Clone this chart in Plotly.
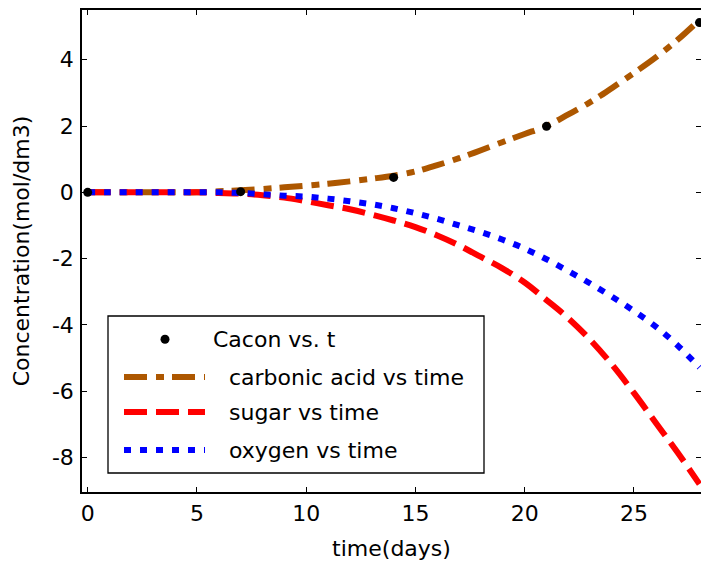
import plotly.graph_objects as go

# ---- data ----
days = list(range(0, 29))
carbonic = [0, 0, 0, 0, 0, 0, 0.03, 0.06, 0.1, 0.15, 0.2, 0.26, 0.33, 0.41, 0.5,
            0.63, 0.82, 1.03, 1.27, 1.52, 1.76, 2.0, 2.35, 2.72, 3.15, 3.6, 4.07, 4.6, 5.2]
sugar = [0, 0, 0, 0, 0, 0, -0.02, -0.04, -0.09, -0.16, -0.27, -0.39, -0.51, -0.67, -0.85,
         -1.05, -1.3, -1.6, -1.95, -2.3, -2.72, -3.25, -3.8, -4.45, -5.2, -6.05, -6.95, -7.85, -8.8]
oxygen = [0, 0, 0, 0, 0, 0, 0, -0.02, -0.06, -0.1, -0.13, -0.19, -0.27, -0.36, -0.48,
          -0.63, -0.8, -1.0, -1.2, -1.43, -1.7, -2.02, -2.38, -2.75, -3.15, -3.58, -4.05, -4.62, -5.28]
cacon_t = [0, 7, 14, 21, 28]
cacon = [0, 0.02, 0.45, 1.99, 5.12]

x_ticks = [0, 5, 10, 15, 20, 25]
y_ticks = [4, 2, 0, -2, -4, -6, -8]

legend_names = ["Cacon vs. t", "carbonic acid vs time", "sugar vs time", "oxygen vs time"]

BROWN = "#AD5700"
RED = "#FF0000"
BLUE = "#0000FF"
FONT = "DejaVu Sans"
FS = 22

W, H = 701, 567
L, R, T, B = 82, 0, 10, 75
PW, PH = W - L - R, H - T - B


def px(x):
    return (x - L) / PW


def py(y):
    return (H - B - y) / PH


DASHDOT = "23px,9px,8px,8px"
DASH = "23px,9px"
DOT = "7px,9px"

fig = go.Figure()
fig.add_trace(go.Scatter(x=days, y=carbonic, mode="lines", name=legend_names[1],
                         line=dict(color=BROWN, width=6, dash=DASHDOT, shape="spline")))
fig.add_trace(go.Scatter(x=days, y=sugar, mode="lines", name=legend_names[2],
                         line=dict(color=RED, width=6, dash=DASH, shape="spline")))
fig.add_trace(go.Scatter(x=days, y=oxygen, mode="lines", name=legend_names[3],
                         line=dict(color=BLUE, width=6, dash=DOT, shape="spline")))
fig.add_trace(go.Scatter(x=cacon_t, y=cacon, mode="markers", name=legend_names[0],
                         marker=dict(color="black", size=9), cliponaxis=False))

# custom legend (MATLAB-style)
shapes = [dict(type="rect", xref="paper", yref="paper",
               x0=px(108), x1=px(484), y0=py(473), y1=py(316),
               line=dict(color="black", width=1.3), fillcolor="white", layer="above")]
sample_y = [377, 412, 450]
dashes = [DASHDOT, DASH, DOT]
colors = [BROWN, RED, BLUE]
for yy, d, c in zip(sample_y, dashes, colors):
    shapes.append(dict(type="line", xref="paper", yref="paper",
                       x0=px(124), x1=px(205), y0=py(yy), y1=py(yy),
                       line=dict(color=c, width=6, dash=d), layer="above"))
shapes.append(dict(type="circle", xref="paper", yref="paper",
                   x0=px(160.5), x1=px(169.5), y0=py(343.8), y1=py(334.8),
                   fillcolor="black", line=dict(color="black", width=0), layer="above"))

annotations = [dict(text=legend_names[0], xref="paper", yref="paper", x=px(211), y=py(339),
                    xanchor="left", yanchor="middle", showarrow=False,
                    font=dict(family=FONT, size=FS, color="black"))]
for name, yy in zip(legend_names[1:], sample_y):
    annotations.append(dict(text=name, xref="paper", yref="paper", x=px(227), y=py(yy),
                            xanchor="left", yanchor="middle", showarrow=False,
                            font=dict(family=FONT, size=FS, color="black")))

fig.update_layout(
    width=W, height=H, autosize=False,
    margin=dict(l=L, r=R, t=T, b=B, autoexpand=False),
    paper_bgcolor="white", plot_bgcolor="white",
    showlegend=False,
    font=dict(family=FONT, size=FS, color="black"),
    shapes=shapes, annotations=annotations,
    xaxis=dict(range=[-0.26, 28.07], tickvals=x_ticks, ticktext=[str(v) for v in x_ticks],
               ticks="inside", ticklen=5, tickcolor="black", tickwidth=1,
               showline=True, linecolor="black", linewidth=1.5, mirror="ticks",
               showgrid=False, zeroline=False, ticklabelstandoff=1, automargin=False,
               title=dict(text="time(days)", standoff=15, font=dict(family=FONT, size=FS))),
    yaxis=dict(range=[-9.04, 5.50], tickvals=y_ticks, ticktext=[str(v) for v in y_ticks],
               ticks="inside", ticklen=5, tickcolor="black", tickwidth=1,
               showline=True, linecolor="black", linewidth=1.5, mirror="ticks",
               showgrid=False, zeroline=False, ticklabelstandoff=2, automargin=False,
               title=dict(text="Concentration(mol/dm3)", standoff=16, font=dict(family=FONT, size=FS))),
)

fig.write_html(
    "out.html",
    config={"responsive": False, "displayModeBar": False},
    post_script="document.documentElement.style.margin='0';document.body.style.margin='0';"
                "document.body.style.padding='0';document.body.style.overflow='hidden';",
)
